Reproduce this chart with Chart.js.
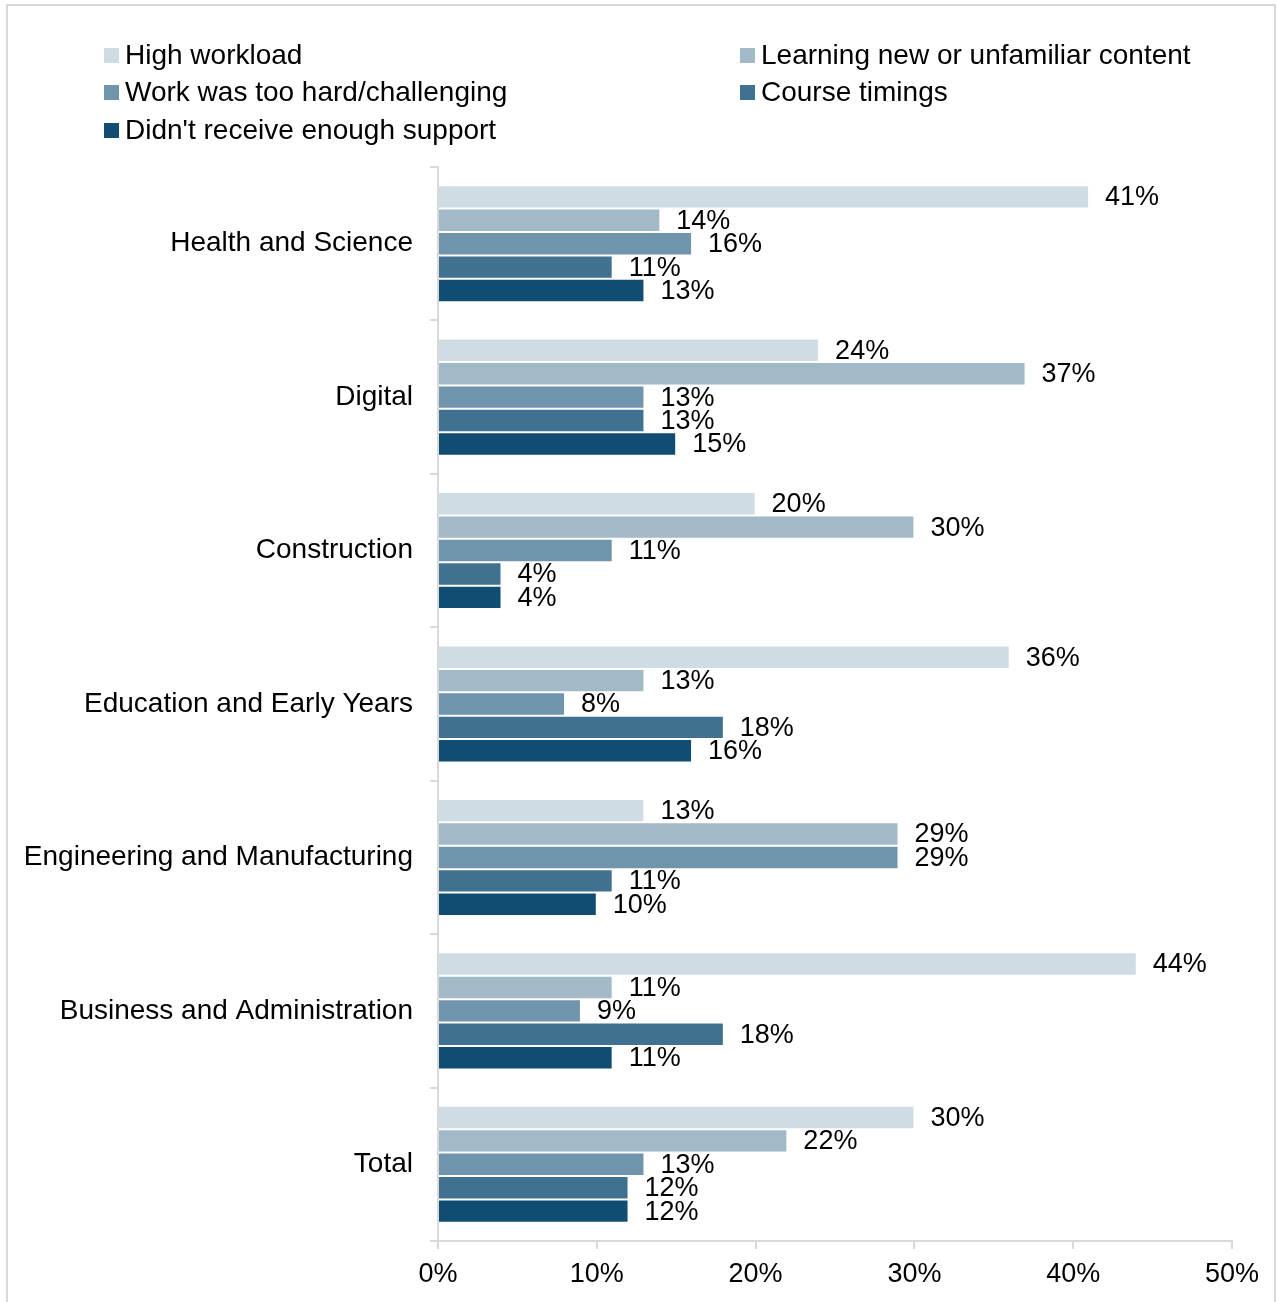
<!DOCTYPE html>
<html>
<head>
<meta charset="utf-8">
<script src="https://cdn.jsdelivr.net/npm/chart.js@4"></script>
<style>
    html, body { margin: 0; padding: 0; background: #ffffff; }
    body { width: 1277px; height: 1302px; position: relative; overflow: hidden; font-family: "Liberation Sans", Arial, sans-serif; }
    #frame { position: absolute; left: 6px; top: 4px; width: 1270px; height: 1310px; border: 2px solid #d9d9d9; box-sizing: border-box; }
    #chart-wrap { position: absolute; left: 0; top: 0; width: 1277px; height: 1302px; }
    #legend { position: absolute; left: 0; top: 0; width: 1277px; height: 160px; }
    .legend-item { position: absolute; display: flex; align-items: center; font-size: 28px; color: #000; white-space: nowrap; height: 36px; }
    .legend-box { width: 15px; height: 15px; margin-right: 6px; }
</style>
</head>
<body>
<div id="frame"></div>
<div id="chart-wrap"><canvas id="barChart" width="1277" height="1302"></canvas></div>
<div id="legend"></div>

<script>
const categories = [
    'Health and Science',
    'Digital',
    'Construction',
    'Education and Early Years',
    'Engineering and Manufacturing',
    'Business and Administration',
    'Total'
];

const seriesNames = [
    'High workload',
    'Learning new or unfamiliar content',
    'Work was too hard/challenging',
    'Course timings',
    "Didn't receive enough support"
];

const highWorkload     = [41, 24, 20, 36, 13, 44, 30];
const newContent       = [14, 37, 30, 13, 29, 11, 22];
const tooHard          = [16, 13, 11, 8, 29, 9, 13];
const courseTimings    = [11, 13, 4, 18, 11, 18, 12];
const notEnoughSupport = [13, 15, 4, 16, 10, 11, 12];

const xTicks = [0, 10, 20, 30, 40, 50];

const seriesValues = [highWorkload, newContent, tooHard, courseTimings, notEnoughSupport];
const seriesColors = ['#cfdce4', '#a2b9c8', '#7194ad', '#407190', '#114d72'];

const FONT = '"Liberation Sans", Arial, sans-serif';

// legend laid out in two columns, row by row
function buildLegend() {
    const legend = document.getElementById('legend');
    const colX = [104, 740];
    const rowY = [37, 74, 112];
    seriesNames.forEach((name, i) => {
        const item = document.createElement('div');
        item.className = 'legend-item';
        item.style.left = colX[i % 2] + 'px';
        item.style.top = rowY[Math.floor(i / 2)] + 'px';
        item.innerHTML = `<div class="legend-box" style="background:${seriesColors[i]}"></div><span>${name}</span>`;
        legend.appendChild(item);
    });
}

// value labels just past the end of each bar
const barLabels = {
    id: 'barLabels',
    afterDatasetsDraw(chart) {
        const ctx = chart.ctx;
        ctx.save();
        ctx.font = '27px ' + FONT;
        ctx.fillStyle = '#000000';
        ctx.textAlign = 'left';
        ctx.textBaseline = 'middle';
        chart.data.datasets.forEach((ds, i) => {
            const meta = chart.getDatasetMeta(i);
            meta.data.forEach((bar, j) => {
                ctx.fillText(ds.data[j] + '%', bar.x + 16, bar.y + 1);
            });
        });
        ctx.restore();
    }
};

document.addEventListener('DOMContentLoaded', () => {
    buildLegend();

    const ctx = document.getElementById('barChart').getContext('2d');
    new Chart(ctx, {
        type: 'bar',
        data: {
            labels: categories,
            datasets: seriesNames.map((name, i) => ({
                label: name,
                data: seriesValues[i],
                backgroundColor: seriesColors[i],
                borderColor: 'rgba(255,255,255,0.15)',
                borderWidth: 1,
                borderSkipped: 'left',
                barPercentage: 1.0,
                categoryPercentage: 0.763
            }))
        },
        options: {
            indexAxis: 'y',
            responsive: false,
            animation: false,
            devicePixelRatio: 1,
            layout: { padding: { top: 167, right: 45, bottom: 0, left: 0 } },
            plugins: {
                legend: { display: false },
                tooltip: { enabled: false }
            },
            scales: {
                x: {
                    min: 0,
                    max: 50,
                    afterBuildTicks: (scale) => { scale.ticks = xTicks.map(v => ({ value: v })); },
                    afterFit: (scale) => { scale.height = 61; },
                    grid: { drawOnChartArea: false, drawTicks: true, tickLength: 8, color: '#d9d9d9', lineWidth: 2 },
                    border: { display: true, color: '#d9d9d9', width: 2 },
                    ticks: {
                        callback: (v) => v + '%',
                        color: '#000000',
                        padding: 9,
                        maxRotation: 0,
                        font: { family: FONT, size: 27 }
                    }
                },
                y: {
                    afterFit: (scale) => { scale.width = 438; },
                    grid: { drawOnChartArea: false, drawTicks: true, tickLength: 8, color: '#d9d9d9', lineWidth: 2 },
                    border: { display: true, color: '#d9d9d9', width: 2 },
                    ticks: {
                        color: '#000000',
                        padding: 17,
                        autoSkip: false,
                        font: { family: FONT, size: 28 }
                    }
                }
            }
        },
        plugins: [barLabels]
    });
});
</script>
</body>
</html>
